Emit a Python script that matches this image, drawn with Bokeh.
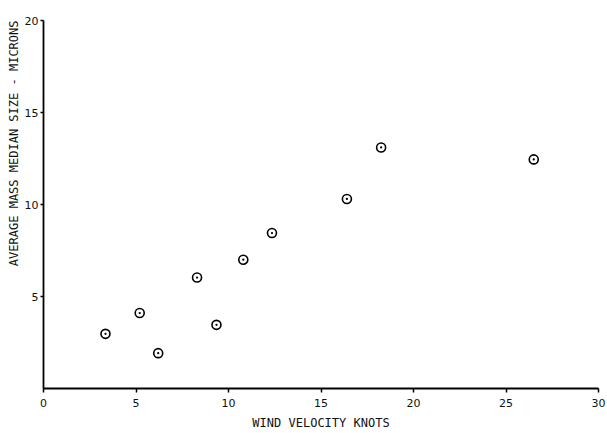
from bokeh.plotting import figure
from bokeh.models import ColumnDataSource, FixedTicker, Range1d, Title
from bokeh.embed import file_html
from bokeh.resources import INLINE

wind_knots = [3.35, 5.2, 6.2, 8.3, 9.35, 10.8, 12.35, 16.4, 18.25, 26.5]
mass_median_microns = [2.97, 4.1, 1.92, 6.03, 3.46, 7.0, 8.45, 10.3, 13.1, 12.45]
x_ticks = [0, 5, 10, 15, 20, 25, 30]
y_ticks = [5, 10, 15, 20]
x_title = "WIND VELOCITY KNOTS"
y_title = "AVERAGE MASS MEDIAN SIZE - MICRONS"

FONT = "DejaVu Sans"
TFONT = "DejaVu Sans Mono"

p = figure(width=607, height=433, output_backend="svg", toolbar_location=None,
           x_range=Range1d(0, 30), y_range=Range1d(0, 20),
           min_border_left=43, min_border_right=9, min_border_top=20, min_border_bottom=45)
p.outline_line_color = None
p.xgrid.visible = False
p.ygrid.visible = False
p.background_fill_color = "white"
p.border_fill_color = "white"

src = ColumnDataSource(dict(x=wind_knots, y=mass_median_microns))
p.scatter("x", "y", source=src, marker="circle_dot", size=9, fill_color=None,
          line_color="black", line_width=1.6)

for ax in (p.xaxis[0], p.yaxis[0]):
    ax.axis_line_color = "black"
    ax.axis_line_width = 1.8
    ax.major_tick_line_color = "black"
    ax.major_tick_line_width = 1.5
    ax.minor_tick_line_color = None
    ax.major_label_text_font = FONT
    ax.major_label_text_font_size = "11px"
    ax.major_label_text_color = "#111111"

p.xaxis.ticker = FixedTicker(ticks=x_ticks)
p.xaxis.major_tick_in = 0
p.xaxis.major_tick_out = 4
p.xaxis.major_label_standoff = 6
p.xaxis.axis_label = x_title
p.xaxis.axis_label_text_font = TFONT
p.xaxis.axis_label_text_font_size = "12px"
p.xaxis.axis_label_text_font_style = "normal"
p.xaxis.axis_label_standoff = 6
p.xaxis.axis_label_text_color = "#111111"

p.yaxis.ticker = FixedTicker(ticks=y_ticks)
p.yaxis.major_tick_in = 0
p.yaxis.major_tick_out = 3
p.yaxis.major_label_standoff = 2
p.yaxis.major_label_orientation = "horizontal"

ytitle = Title(text=y_title, align="right", text_font=TFONT, text_font_size="12px",
               text_font_style="normal", text_color="#111111", offset=0,
               standoff=2)
p.add_layout(ytitle, "left")

open("out.html", "w").write(file_html(p, INLINE))
